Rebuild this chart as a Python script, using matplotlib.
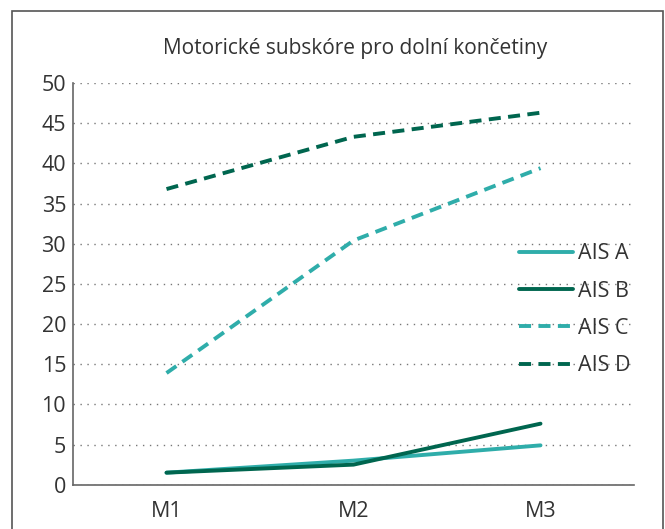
import numpy as np
import matplotlib
matplotlib.use("Agg")
import matplotlib.pyplot as plt
from matplotlib.patches import Rectangle

# Data
categories = ["M1", "M2", "M3"]
ais_a = [1.5, 3.0, 4.9]
ais_b = [1.5, 2.5, 7.6]
ais_c = [13.9, 30.4, 39.4]
ais_d = [36.8, 43.3, 46.3]
series_names = ["AIS A", "AIS B", "AIS C", "AIS D"]
y_ticks = [0, 5, 10, 15, 20, 25, 30, 35, 40, 45, 50]

light = "#2fadaa"
dark = "#00664f"
text_col = "#333333"

plt.rcParams['font.family'] = ['Open Sans', 'DejaVu Sans']

def main():
    fig = plt.figure(figsize=(6.65, 5.29), dpi=100)
    ax = fig.add_axes([0.1098, 0.0837, 0.8436, 0.7594])

    x = np.arange(len(categories))
    lw = 2.8
    ax.plot(x, ais_a, color=light, lw=lw, solid_capstyle="round", label=series_names[0])
    ax.plot(x, ais_b, color=dark, lw=lw, solid_capstyle="round", label=series_names[1])
    ax.plot(x, ais_c, color=light, lw=lw, dashes=(3.1, 1.9), label=series_names[2])
    ax.plot(x, ais_d, color=dark, lw=lw, dashes=(3.1, 1.9), label=series_names[3])

    ax.set_xlim(-0.5, 2.5)
    ax.set_ylim(0, 50)
    ax.set_xticks(x)
    ax.set_xticklabels(categories)
    ax.set_yticks(y_ticks)
    ax.tick_params(length=0, labelsize=15.5, colors=text_col, pad=5)
    ax.tick_params(axis="x", pad=12)

    ax.yaxis.grid(True, linestyle=(0, (1, 4)), color="#777777", lw=1.0)
    ax.set_axisbelow(True)
    for s in ["top", "right"]:
        ax.spines[s].set_visible(False)
    for s in ["left", "bottom"]:
        ax.spines[s].set_color("#666666")
        ax.spines[s].set_linewidth(1.2)

    fig.text(0.534, 0.908, "Motorické subskóre pro dolní končetiny",
             ha="center", va="center", fontsize=15, color=text_col)

    leg = fig.legend(loc="upper left", bbox_to_anchor=(0.752, 0.577), frameon=False,
                     fontsize=15.5, handlelength=2.5, handletextpad=0.2,
                     labelspacing=0.76, labelcolor=text_col)

    # outer frame around the chart
    fig.patches.append(Rectangle((12 / 665, -0.05), (663 - 12) / 665, 1.05 - 11 / 529,
                                 transform=fig.transFigure, fill=False,
                                 edgecolor="#555555", lw=1.2))

    fig.savefig("out.png", dpi=100)

if __name__ == "__main__":
    main()
